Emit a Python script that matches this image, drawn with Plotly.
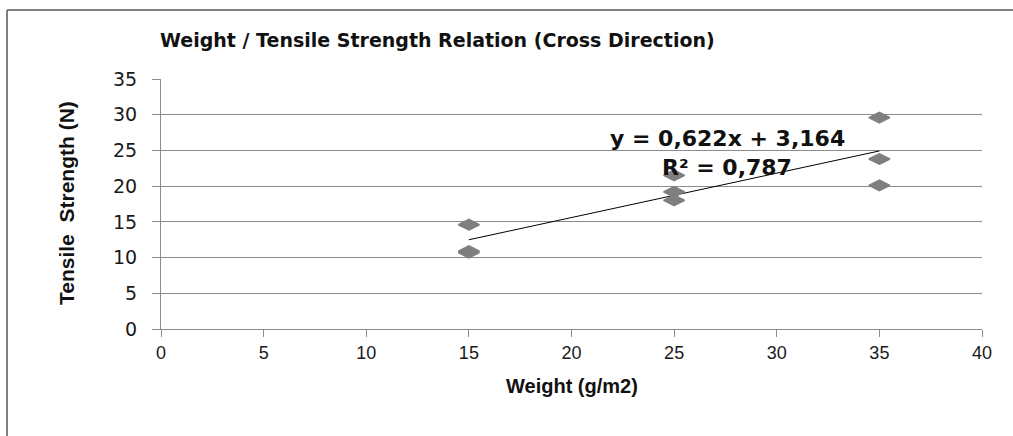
import numpy as np
import plotly.graph_objects as go

weight = [15, 15, 15, 25, 25, 25, 35, 35, 35]
strength = [14.6, 10.9, 10.7, 21.5, 19.2, 18.0, 29.6, 23.8, 20.1]
x_ticks = [0, 5, 10, 15, 20, 25, 30, 35, 40]
y_ticks = [0, 5, 10, 15, 20, 25, 30, 35]

title_text = "Weight / Tensile Strength Relation (Cross Direction)"
x_title = "Weight (g/m2)"
y_title = "Tensile  Strength (N)"
eq_text = "y = 0,622x + 3,164"
r2_text = "R² = 0,787"

slope, intercept = np.polyfit(weight, strength, 1)
trend_x = [min(weight), max(weight)]
trend_y = [slope * v + intercept for v in trend_x]

fig = go.Figure()
fig.add_trace(go.Scatter(x=trend_x, y=trend_y, mode="lines",
                         line=dict(color="#000000", width=1), showlegend=False, hoverinfo="skip"))
fig.add_trace(go.Scatter(x=weight, y=strength, mode="markers",
                         marker=dict(symbol="diamond-wide", size=15, color="#7f7f7f",
                                     line=dict(color="#7f7f7f", width=1.5)),
                         showlegend=False))

W, H = 1013, 436
L, R, T, B = 161, 31, 79, 107
pw, ph = W - L - R, H - T - B

def px_x(p):
    return (p - L) / pw

def px_y(p):
    return (H - B - p) / ph

NARROW = "Liberation Sans Narrow, Liberation Sans"

fig.update_layout(
    width=W, height=H,
    margin=dict(l=L, r=R, t=T, b=B, autoexpand=False),
    paper_bgcolor="white", plot_bgcolor="white",
    xaxis=dict(range=[0, 40], tickvals=x_ticks, showgrid=False, zeroline=False,
               showline=True, linecolor="#8c8c8c", linewidth=1,
               ticks="outside", ticklen=7, tickcolor="#8c8c8c",
               tickfont=dict(family=NARROW, size=18, color="#1a1a1a")),
    yaxis=dict(range=[0, 35], tickvals=y_ticks, showgrid=True, gridcolor="#8c8c8c", gridwidth=1,
               zeroline=False, showline=True, linecolor="#8c8c8c", linewidth=1,
               ticks="outside", ticklen=8, tickcolor="#8c8c8c", ticklabelstandoff=11,
               tickfont=dict(family="DejaVu Sans", size=19, color="#1a1a1a")),
    font=dict(family="Liberation Sans"),
)

fig.add_annotation(text="<b>" + title_text + "</b>", xref="paper", yref="paper",
                   x=px_x(437), y=px_y(40), showarrow=False, xanchor="center", yanchor="middle",
                   font=dict(family="DejaVu Sans", size=19, color="#111"))
fig.add_annotation(text="<b>" + eq_text + "</b>", xref="paper", yref="paper",
                   x=px_x(727), y=px_y(138), showarrow=False, xanchor="center", yanchor="middle",
                   font=dict(family="DejaVu Sans", size=22, color="#111"))
fig.add_annotation(text="<b>" + r2_text + "</b>", xref="paper", yref="paper",
                   x=px_x(727), y=px_y(167), showarrow=False, xanchor="center", yanchor="middle",
                   font=dict(family="DejaVu Sans", size=22, color="#111"))
fig.add_annotation(text=x_title, xref="paper", yref="paper",
                   x=px_x(572), y=px_y(386), showarrow=False, xanchor="center", yanchor="middle",
                   font=dict(family="Liberation Sans", size=20, color="#111", weight="bold"))
fig.add_annotation(text=y_title, xref="paper", yref="paper", textangle=-90,
                   x=px_x(66), y=px_y(203), showarrow=False, xanchor="center", yanchor="middle",
                   font=dict(family=NARROW, size=21, color="#111", weight="bold"))

fig.add_shape(type="line", xref="paper", yref="paper", x0=px_x(7), x1=px_x(1013),
              y0=px_y(10), y1=px_y(10), line=dict(color="#808080", width=2))
fig.add_shape(type="line", xref="paper", yref="paper", x0=px_x(7), x1=px_x(7),
              y0=px_y(10), y1=px_y(440), line=dict(color="#808080", width=2))

fig.write_html("out.html")
